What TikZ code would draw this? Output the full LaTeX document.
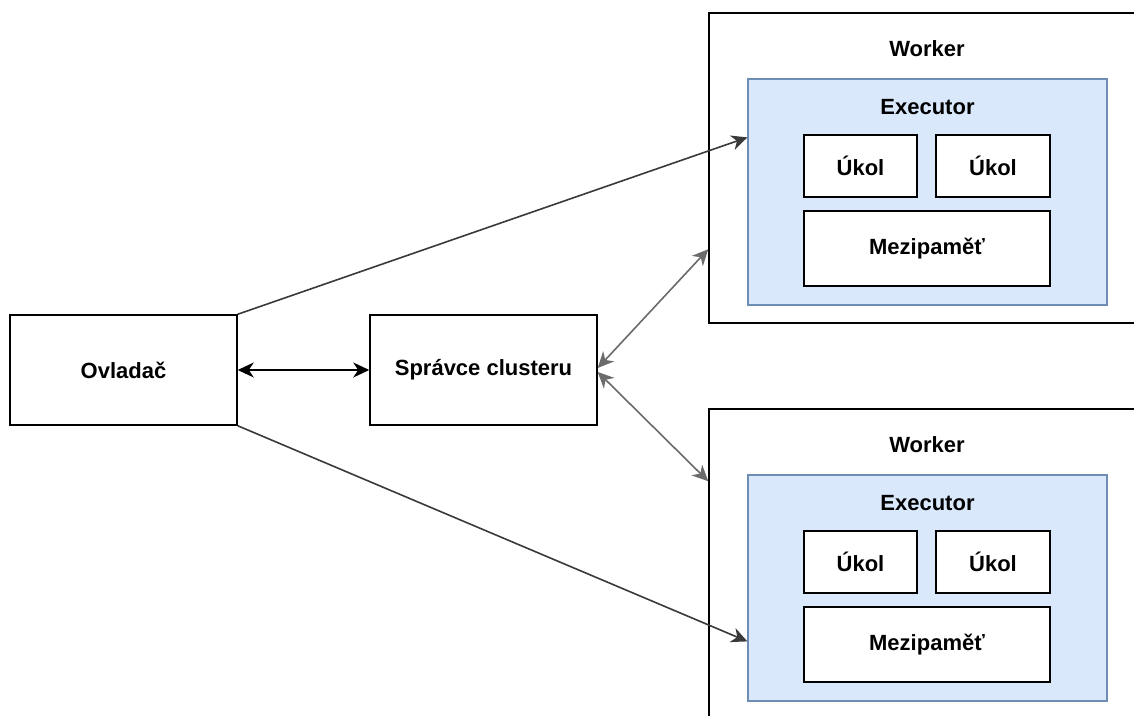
\documentclass[tikz,border=0pt]{standalone}
\usepackage{fontspec}
\setmainfont{Liberation Sans}
\usetikzlibrary{arrows.meta,calc}

\definecolor{execfill}{HTML}{DAE8FC}
\definecolor{execline}{HTML}{6C8EBF}
\definecolor{linkgray}{HTML}{3A3A3A}

\tikzset{
  label font/.style={font=\fontsize{22bp}{26bp}\selectfont\bfseries},
  box/.style={draw=black, line width=1.5bp, fill=white, inner sep=0pt, label font},
  execbox/.style={draw=execline!85!gray, line width=1.2bp, fill=execfill, inner sep=0pt},
  caption/.style={inner sep=0pt, label font},
  tip/.style={-{Stealth[length=16bp,width=15bp,inset=5bp]}},
  both/.style={{Stealth[length=16bp,width=15bp,inset=5bp]}-{Stealth[length=16bp,width=15bp,inset=5bp]}},
  link/.style={line width=1.6bp}
}

\begin{document}
\begin{tikzpicture}[x=1bp,y=-1bp]
  \useasboundingbox (0,0) rectangle (1134,716);
  \fill[white] (0,0) rectangle (1134,716);
  \clip (0,0) rectangle (1134,716);

  % driver and cluster manager
  \node[box, minimum width=227bp, minimum height=110bp] (ovl) at (123.5,370) {Ovladač};
  \node[box, minimum width=227bp, minimum height=110bp] (spr) at (483.5,370) {Správce clusteru};

  % two worker nodes, each with one executor
  \foreach \i/\dy in {1/0, 2/396} {
    \node[box, minimum width=450bp, minimum height=310bp] (wk\i) at (934,168+\dy) {};
    \node[caption] (wt\i) at (927,49+\dy) {Worker};
    \node[execbox, minimum width=359bp, minimum height=226bp] (ex\i) at (927.5,192+\dy) {};
    \node[caption] (et\i) at (927.5,107+\dy) {Executor};
    \node[box, minimum width=113bp, minimum height=62bp] (ua\i) at (860.5,166+\dy) {Úkol};
    \node[box, minimum width=114bp, minimum height=62bp] (ub\i) at (993,166+\dy) {Úkol};
    \node[box, minimum width=246bp, minimum height=75bp] (mp\i) at (927,248.5+\dy) {Mezipaměť};
  }

  % connectors
  \draw[link, both, black] (ovl.east) -- (spr.west);
  \draw[link, both, linkgray!75] ($(spr.east)+(0,-2)$) -- ($(wk1.north west)+(0,237)$);
  \draw[link, both, linkgray!75] ($(spr.east)+(0,2)$) -- ($(wk2.north west)+(0,73)$);
  \draw[link, tip, linkgray] (ovl.north east) -- ($(ex1.north west)+(0,59)$);
  \draw[link, tip, linkgray] (ovl.south east) -- ($(ex2.north west)+(0,167)$);
\end{tikzpicture}
\end{document}
